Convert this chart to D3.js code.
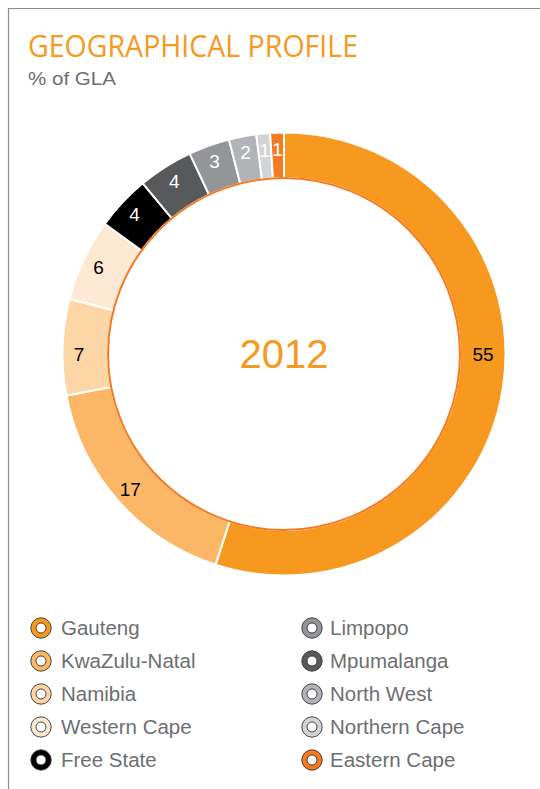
<!DOCTYPE html>
<html>
<head>
<meta charset="utf-8">
<script src="https://cdn.jsdelivr.net/npm/d3@7"></script>
<style>
  html, body { margin: 0; padding: 0; background: #fff; }
  svg { display: block; }
</style>
</head>
<body>
<svg id="chart" width="540" height="789"></svg>
<script>
// Share of gross lettable area by region, 2012 (clockwise from 12 o'clock)
const regions = ["Gauteng", "KwaZulu-Natal", "Namibia", "Western Cape", "Free State",
                 "Mpumalanga", "Limpopo", "North West", "Northern Cape", "Eastern Cape"];
const shares  = [55, 17, 7, 6, 4, 4, 3, 2, 1, 1];
const colors  = ["#F7981F", "#FBB766", "#FCD6A4", "#FDE9D3", "#000000",
                 "#58595B", "#939598", "#B1B3B6", "#D1D3D4", "#F47920"];
const labelColors = ["#000", "#000", "#000", "#000", "#fff", "#fff", "#fff", "#fff", "#fff", "#fff"];

// Legend layout order (two columns)
const legendCol1 = ["Gauteng", "KwaZulu-Natal", "Namibia", "Western Cape", "Free State"];
const legendCol2 = ["Limpopo", "Mpumalanga", "North West", "Northern Cape", "Eastern Cape"];

const title = "GEOGRAPHICAL PROFILE";
const subtitle = "% of GLA";
const centerLabel = "2012";

const svg = d3.select("#chart");
const colorOf = d3.scaleOrdinal().domain(regions).range(colors);
const labelColorOf = d3.scaleOrdinal().domain(regions).range(labelColors);
const sans = "'Liberation Sans', Arial, Helvetica, sans-serif";

// Frame lines (top and left)
svg.append("path")
  .attr("d", "M8.5,789 V8.5 H540")
  .attr("fill", "none").attr("stroke", "#8c8c8c").attr("stroke-width", 1.2);

svg.append("text").attr("x", 28).attr("y", 56.5)
  .attr("font-family", "'Open Sans', 'Noto Sans', sans-serif")
  .attr("font-size", 31).attr("fill", "#F7981F")
  .attr("textLength", 330).attr("lengthAdjust", "spacingAndGlyphs")
  .text(title);

svg.append("text").attr("x", 28).attr("y", 85)
  .attr("font-family", sans)
  .attr("font-size", 19).attr("fill", "#6D6E71")
  .attr("textLength", 88).attr("lengthAdjust", "spacingAndGlyphs")
  .text(subtitle);

// Donut
const cx = 284, cy = 354, rOuter = 221.5, rInner = 176, rLabel = 205;
const data = regions.map((r, i) => ({ region: r, value: shares[i] }));
const pie = d3.pie().value(d => d.value).sort(null);
const arc = d3.arc().innerRadius(rInner).outerRadius(rOuter);

const g = svg.append("g").attr("transform", `translate(${cx},${cy})`);
const arcs = pie(data);

g.selectAll("path.slice").data(arcs).join("path")
  .attr("class", "slice")
  .attr("d", arc)
  .attr("fill", d => colorOf(d.data.region))
  .attr("stroke", "#fff").attr("stroke-width", 2);

// Orange rim around the inner hole
g.append("circle").attr("r", rInner).attr("fill", "none")
  .attr("stroke", "#F47920").attr("stroke-width", 2);

// Value labels: a slice crossing the 3 or 9 o'clock line keeps its label on that line
function labelAngle(d) {
  for (const a of [Math.PI / 2, 3 * Math.PI / 2]) {
    if (d.startAngle <= a && d.endAngle >= a) return a;
  }
  return (d.startAngle + d.endAngle) / 2;
}
g.selectAll("text.val").data(arcs).join("text")
  .attr("class", "val")
  .attr("x", d => (d.data.value > 50 ? rLabel - 6 : rLabel) * Math.sin(labelAngle(d)))
  .attr("y", d => -rLabel * Math.cos(labelAngle(d)))
  .attr("text-anchor", "middle").attr("dy", "0.36em")
  .attr("font-family", sans)
  .attr("font-size", 19)
  .attr("fill", d => labelColorOf(d.data.region))
  .text(d => d.data.value);

g.append("text").attr("text-anchor", "middle").attr("dy", "0.36em")
  .attr("font-family", sans)
  .attr("font-size", 40).attr("fill", "#F7981F")
  .text(centerLabel);

// Legend
const rowY = d3.scalePoint().domain(d3.range(5)).range([628, 760]);
function legendColumn(items, mx, tx) {
  const rows = svg.append("g").selectAll("g").data(items).join("g")
    .attr("transform", (d, i) => `translate(0,${rowY(i)})`);
  rows.append("circle").attr("cx", mx).attr("r", 10.2)
    .attr("fill", d => colorOf(d)).attr("stroke", "#333").attr("stroke-width", 0.9);
  rows.append("circle").attr("cx", mx).attr("r", 5)
    .attr("fill", "#fff").attr("stroke", "#333").attr("stroke-width", 0.9);
  rows.append("text").attr("x", tx).attr("dy", "0.35em")
    .attr("font-family", sans)
    .attr("font-size", 20.5).attr("fill", "#6D6E71")
    .text(d => d);
}
legendColumn(legendCol1, 41, 61);
legendColumn(legendCol2, 312, 330);
</script>
</body>
</html>
